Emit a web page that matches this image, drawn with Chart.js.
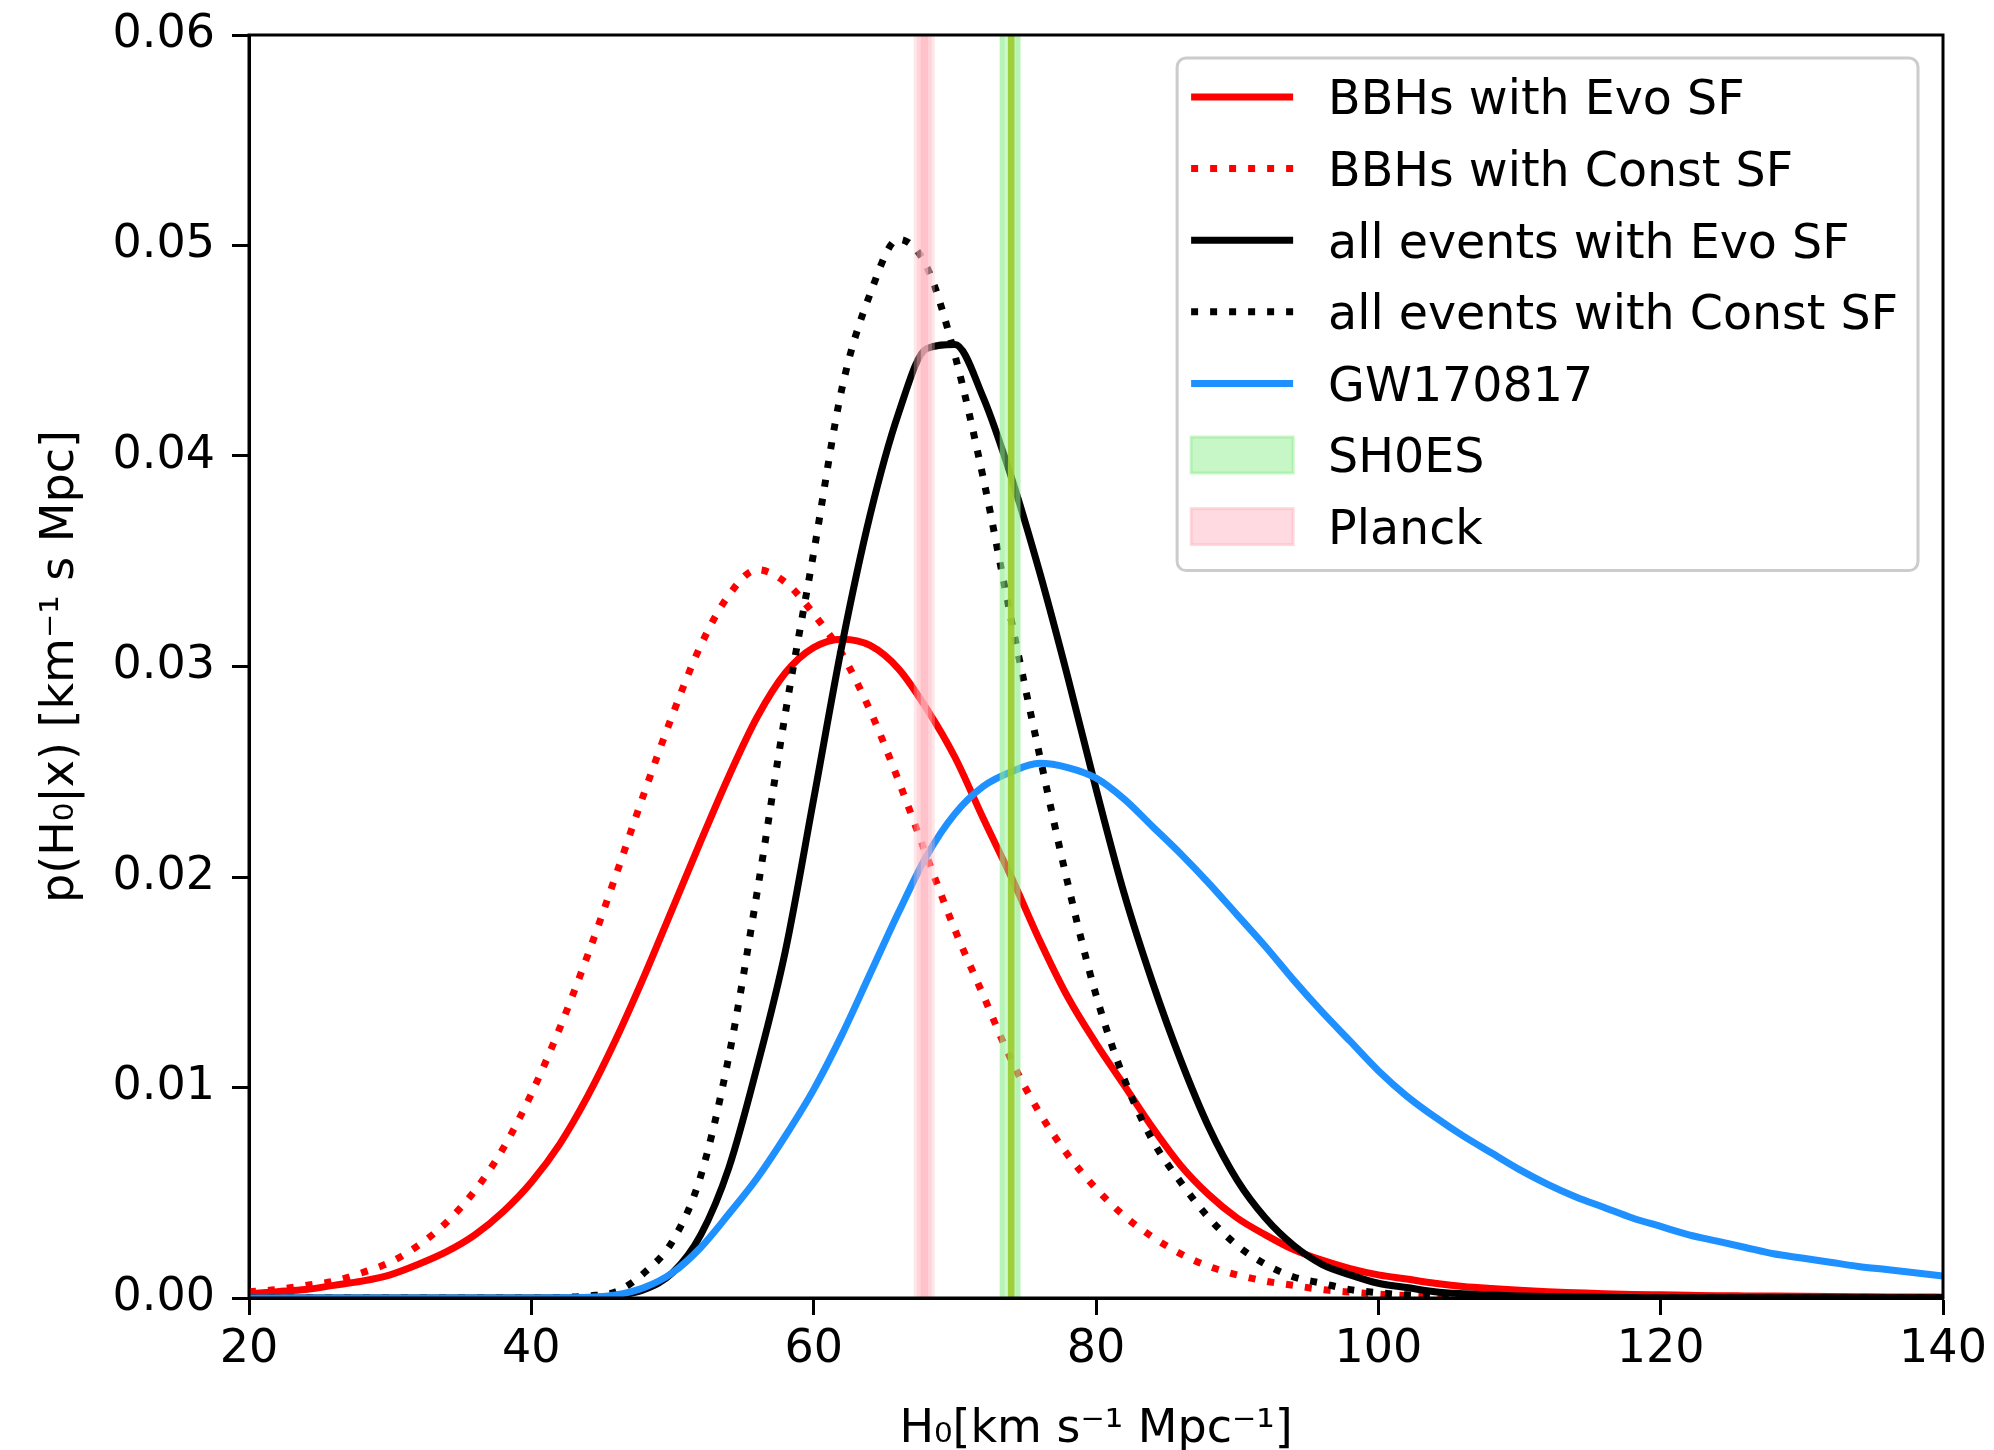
<!DOCTYPE html>
<html>
<head>
<meta charset="utf-8">
<script src="https://cdn.jsdelivr.net/npm/chart.js@4.4.0/dist/chart.umd.min.js"></script>
<style>
html,body{margin:0;padding:0;background:#ffffff;}
canvas{display:block;}
</style>
</head>
<body>
<canvas id="c" width="1994" height="1450"></canvas>
<script>
// ---------------- data ----------------
const hValues = [20,22,24,26,28,30,32,34,36,38,40,42,44,46,48,50,52,54,56,58,60,62,64,66,68,70,72,74,76,78,80,82,84,86,88,90,92,94,96,98,100,102,104,106,108,110,112,114,116,118,120,122,124,126,128,130,132,134,136,138,140];

const bbhEvo = [0.0002,0.0003,0.0004,0.0006,0.0008,0.0011,0.0016,0.0022,0.0030,0.0041,0.0055,0.0073,0.0096,0.0123,0.0153,0.0185,0.0217,0.0248,0.0276,0.0297,0.0309,0.0313,0.0310,0.0299,0.0280,0.0257,0.0228,0.0200,0.0170,0.0143,0.0121,0.0101,0.0081,0.0063,0.0049,0.0038,0.0030,0.0023,0.0018,0.0014,0.0011,0.0009,0.0007,0.00055,0.00045,0.00037,0.0003,0.00025,0.0002,0.00017,0.00015,0.00013,0.00011,0.0001,0.00009,0.00008,0.00007,0.00006,0.00005,0.00005,0.00004];

const bbhConst = [0.0003,0.0004,0.0006,0.0008,0.0012,0.0017,0.0025,0.0036,0.0051,0.0071,0.0097,0.0128,0.0163,0.0201,0.0240,0.0277,0.0310,0.0334,0.0346,0.0340,0.0325,0.0306,0.0279,0.0246,0.0210,0.0175,0.0144,0.0113,0.0088,0.0068,0.0052,0.0039,0.0029,0.0021,0.0015,0.0011,0.0008,0.0006,0.0004,0.00028,0.00018,0.00012,0.00008,0.00005,0.00003,0.00002,0.00001,0,0,0,0,0,0,0,0,0,0,0,0,0,0];

const allEvo = [0,0,0,0,0,0,0,0,0,0,0,0,0.00002,0.0001,0.0004,0.0012,0.0030,0.0062,0.0110,0.0165,0.0237,0.0310,0.0372,0.0420,0.0451,0.0453,0.0428,0.0390,0.0345,0.0295,0.0242,0.0192,0.0150,0.0113,0.0081,0.0056,0.0038,0.0025,0.0016,0.0011,0.0007,0.0005,0.0003,0.0002,0.00014,0.0001,0.00007,0.00005,0.00003,0.00002,0.00001,0.00001,0.00001,0.00001,0.00001,0.00001,0.00001,0.00001,0.00001,0.00001,0.00001];

const allConst = [0,0,0,0,0,0,0,0,0,0,0,0.00002,0.0001,0.0003,0.0012,0.0027,0.0058,0.0115,0.0193,0.0278,0.0354,0.0432,0.0477,0.0503,0.0490,0.0448,0.0390,0.0322,0.0258,0.0197,0.0144,0.0104,0.0075,0.0055,0.0038,0.0025,0.0016,0.0010,0.0007,0.0004,0.00025,0.00015,0.0001,0.00006,0.00004,0.00002,0,0,0,0,0,0,0,0,0,0,0,0,0,0,0];

const gw170817 = [0,0,0,0,0,0,0,0,0,0,0,0.00001,0.00004,0.00015,0.0005,0.0012,0.0024,0.0040,0.0057,0.0077,0.0099,0.0125,0.0154,0.0183,0.0210,0.0230,0.0243,0.0250,0.0254,0.0252,0.0247,0.0237,0.0224,0.0211,0.0197,0.0182,0.0167,0.0151,0.0136,0.0122,0.0108,0.0096,0.0086,0.0077,0.0069,0.0061,0.0054,0.0048,0.0043,0.0038,0.0034,0.0030,0.0027,0.0024,0.0021,0.0019,0.0017,0.0015,0.00135,0.0012,0.00105];

const seriesLabels = ['BBHs with Evo SF','BBHs with Const SF','all events with Evo SF','all events with Const SF','GW170817'];

// H0 ranges of the two measurement bands (outer / inner)
const shoesRange = [73.18, 74.65];
const shoesCore  = [73.76, 74.23];
const planckRange = [67.09, 68.58];
const planckMid   = [67.30, 68.38];
const planckCore  = [67.59, 68.11];
const bandLabels = ['SH0ES','Planck'];

const xTickValues = [20,40,60,80,100,120,140];
const yTickValues = [0,0.01,0.02,0.03,0.04,0.05,0.06];
const yTickLabels = ['0.00','0.01','0.02','0.03','0.04','0.05','0.06'];

// ---------------- styling ----------------
const FAMILY = 'DejaVu Sans';
const PX = 46;
const LEGEND_PX = 47.5;
const LW = 7;
const DOT = [7, 12];

function pts(arr){ return hValues.map((h,i)=>({x:h, y:arr[i]})); }

function line(label, data, color, dashed, order){
  return {
    label, data: pts(data), borderColor: color, backgroundColor: color,
    borderWidth: LW, borderDash: dashed ? DOT : [], borderCapStyle: 'butt',
    borderJoinStyle: 'round', pointRadius: 0, pointHoverRadius: 0,
    fill: false, cubicInterpolationMode: 'monotone', order
  };
}

const bandPlugin = {
  id: 'bandsAndFrame',
  afterDatasetsDraw(chart){
    const {ctx, chartArea:a, scales:{x}} = chart;
    ctx.save();
    ctx.beginPath(); ctx.rect(a.left, a.top, a.right-a.left, a.bottom-a.top); ctx.clip();
    const span = (r, color) => {
      const x0 = x.getPixelForValue(r[0]), x1 = x.getPixelForValue(r[1]);
      ctx.fillStyle = color;
      ctx.fillRect(x0, a.top, x1-x0, a.bottom-a.top);
    };
    span(planckRange, 'rgba(255,182,193,0.35)');
    span(planckMid,   'rgba(255,182,193,0.35)');
    span(planckCore,  'rgba(255,182,193,0.6)');
    span(shoesRange,  'rgba(144,238,144,0.45)');
    const s0 = x.getPixelForValue(shoesRange[0]), s1 = x.getPixelForValue(shoesRange[1]);
    ctx.fillStyle = 'rgba(144,238,144,0.35)';
    ctx.fillRect(s0, a.top, 5, a.bottom-a.top);
    ctx.fillRect(s1-5, a.top, 5, a.bottom-a.top);
    span(shoesCore,   'rgba(154,205,50,0.92)');
    ctx.restore();
    ctx.save();
    ctx.strokeStyle = '#000'; ctx.lineWidth = 3;
    ctx.strokeRect(a.left, a.top, a.right-a.left, a.bottom-a.top);
    ctx.restore();
  }
};

const legendPlugin = {
  id: 'mplLegend',
  afterDraw(chart){
    const {ctx, chartArea:a} = chart;
    ctx.save();
    ctx.font = LEGEND_PX + 'px "' + FAMILY + '"';
    const items = chart.data.datasets.map(d => ({kind:'line', color:d.borderColor, dash:d.borderDash, width:d.borderWidth, label:d.label}))
      .concat([
        {kind:'patch', color:'rgba(144,238,144,0.5)', label:bandLabels[0]},
        {kind:'patch', color:'rgba(255,182,193,0.5)', label:bandLabels[1]}
      ]);
    const textW = Math.max(...items.map(i => ctx.measureText(i.label).width));
    const padL = 14, handleW = 102, gap = 35, padR = 20, rowH = 71.6, firstRow = 39, lastPad = 44;
    const w = padL + handleW + gap + textW + padR;
    const h = firstRow + rowH*(items.length-1) + lastPad;
    const x0 = a.right - 25 - w, y0 = a.top + 23, r = 9;
    ctx.beginPath();
    ctx.moveTo(x0+r, y0);
    ctx.lineTo(x0+w-r, y0); ctx.arcTo(x0+w, y0, x0+w, y0+r, r);
    ctx.lineTo(x0+w, y0+h-r); ctx.arcTo(x0+w, y0+h, x0+w-r, y0+h, r);
    ctx.lineTo(x0+r, y0+h); ctx.arcTo(x0, y0+h, x0, y0+h-r, r);
    ctx.lineTo(x0, y0+r); ctx.arcTo(x0, y0, x0+r, y0, r);
    ctx.closePath();
    ctx.fillStyle = 'rgba(255,255,255,0.8)'; ctx.fill();
    ctx.strokeStyle = '#cccccc'; ctx.lineWidth = 3; ctx.stroke();
    items.forEach((it, i) => {
      const cy = y0 + firstRow + i*rowH;
      const hx = x0 + padL;
      if (it.kind === 'line'){
        ctx.beginPath();
        ctx.setLineDash(it.dash || []);
        ctx.lineCap = 'butt';
        ctx.strokeStyle = it.color; ctx.lineWidth = it.width;
        ctx.moveTo(hx, cy); ctx.lineTo(hx+handleW, cy); ctx.stroke();
        ctx.setLineDash([]);
      } else {
        ctx.fillStyle = it.color;
        ctx.fillRect(hx, cy-18, handleW, 36);
        ctx.strokeStyle = it.color; ctx.lineWidth = 3;
        ctx.strokeRect(hx, cy-18, handleW, 36);
      }
      ctx.fillStyle = '#000'; ctx.textAlign = 'left'; ctx.textBaseline = 'alphabetic';
      ctx.fillText(it.label, hx + handleW + gap, cy + 0.729*LEGEND_PX/2);
    });
    ctx.restore();
  }
};

const tickFont = {family: FAMILY, size: PX};

new Chart(document.getElementById('c'), {
  type: 'line',
  data: {
    datasets: [
      line(seriesLabels[0], bbhEvo,   '#ff0000', false, 5),
      line(seriesLabels[1], bbhConst, '#ff0000', true,  4),
      line(seriesLabels[2], allEvo,   '#000000', false, 3),
      line(seriesLabels[3], allConst, '#000000', true,  2),
      line(seriesLabels[4], gw170817, '#1e90ff', false, 1)
    ]
  },
  options: {
    responsive: false,
    animation: false,
    devicePixelRatio: 1,
    events: [],
    layout: {padding: {left: 0, right: 51, top: 35, bottom: 0}},
    plugins: {legend: {display: false}, tooltip: {enabled: false}, title: {display: false}},
    scales: {
      x: {
        type: 'linear', min: 20, max: 140,
        afterBuildTicks: s => { s.ticks = xTickValues.map(v => ({value: v})); },
        afterFit: s => { s.height = 152; s.paddingLeft = 0; s.paddingRight = 0; },
        ticks: {font: tickFont, color: '#000', padding: 7, maxRotation: 0, autoSkip: false,
                callback: v => String(v)},
        grid: {drawOnChartArea: false, drawTicks: true, tickLength: 17, tickWidth: 3, tickColor: '#000'},
        border: {display: true, color: '#000', width: 3},
        title: {display: true, text: 'H₀[km s⁻¹ Mpc⁻¹]', font: tickFont, color: '#000', padding: {top: 0, bottom: -8}}
      },
      y: {
        type: 'linear', min: 0, max: 0.06,
        afterBuildTicks: s => { s.ticks = yTickValues.map(v => ({value: v})); },
        afterFit: s => { s.width = 249; s.paddingTop = 0; s.paddingBottom = 0; },
        ticks: {font: tickFont, color: '#000', padding: 17, autoSkip: false,
                callback: (v) => yTickLabels[yTickValues.findIndex(t => Math.abs(t - v) < 1e-9)]},
        grid: {drawOnChartArea: false, drawTicks: true, tickLength: 17, tickWidth: 3, tickColor: '#000'},
        border: {display: true, color: '#000', width: 3},
        title: {display: true, text: 'p(H₀|x) [km⁻¹ s Mpc]', font: tickFont, color: '#000', padding: {top: 33, bottom: 0}}
      }
    }
  },
  plugins: [bandPlugin, legendPlugin]
});
</script>
</body>
</html>
